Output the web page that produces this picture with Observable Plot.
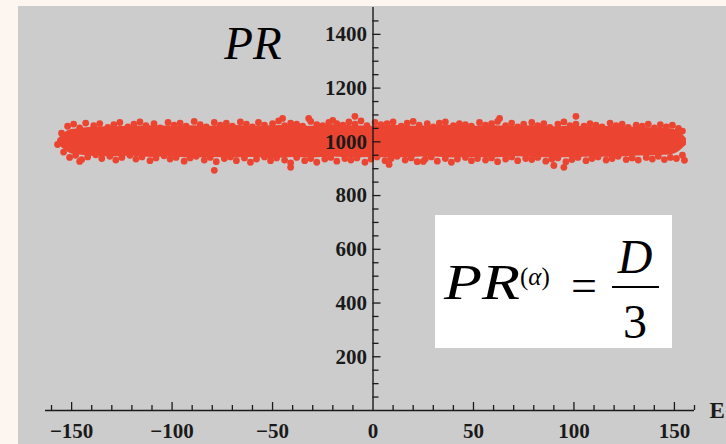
<!DOCTYPE html>
<html>
<head>
<meta charset="utf-8">
<script src="https://cdn.jsdelivr.net/npm/d3@7"></script>
<script src="https://cdn.jsdelivr.net/npm/@observablehq/plot@0.6"></script>
<style>
  body { margin: 0; background: #fdf6f0; }
  #wrap { position: relative; width: 726px; height: 444px; overflow: hidden; background: #fdf6f0; }
  #chart { position: absolute; left: 18px; top: 6px; }
  #formula { position: absolute; left: 435px; top: 215px; }
</style>
</head>
<body>
<div id="wrap">
  <div id="chart"></div>
  <svg id="formula" width="237" height="133" style="background:#ffffff" font-family="'Liberation Serif', 'Times New Roman', serif">
    <text transform="translate(9,84) scale(1.22,1)" font-size="51" font-style="italic">PR</text>
    <text x="85" y="70" font-size="25">(<tspan font-style="italic">α</tspan>)</text>
    <text x="136" y="86" font-size="46">=</text>
    <text x="200" y="58" font-size="48" font-style="italic" text-anchor="middle">D</text>
    <line x1="177" x2="224" y1="72" y2="72" stroke="#000" stroke-width="2"/>
    <text x="200" y="123" font-size="48" text-anchor="middle">3</text>
  </svg>
</div>
<script>
// ---- data ----
const xDomain = [-163, 160];
const yDomain = [0, 1500];
const xMinorTicks = [-160,-140,-130,-120,-110,-90,-80,-70,-60,-40,-30,-20,-10,10,20,30,40,60,70,80,90,110,120,130,140,160];
const xMajorTicks = [-150,-100,-50,0,50,100,150];
const yMinorTicks = [50,100,150,250,300,350,450,500,550,650,700,750,850,900,950,1050,1100,1150,1250,1300,1350,1450];
const yMajorTicks = [200,400,600,800,1000,1200,1400];

// dense core of the point cloud (lower / upper envelope)
const coreE    = [-157,-153,-150,-145,-140,-130,-120,-110,-100,-90,-80,-70,-60,-50,-40,-30,-20,-10,0,10,20,30,40,50,60,70,80,90,100,110,120,130,140,145,150,153,156];
const coreLow  = [992,968,955,950,946,944,946,942,944,940,942,940,942,938,942,940,944,940,942,940,942,944,940,942,940,944,942,940,942,944,942,946,948,950,955,968,988];
const coreHigh = [1008,1036,1046,1050,1054,1056,1058,1060,1058,1060,1058,1062,1058,1060,1062,1058,1064,1060,1058,1062,1058,1060,1062,1058,1060,1058,1060,1056,1058,1056,1058,1054,1052,1050,1046,1034,1012];

// points along the upper edge
const topE  = [-155,-152,-149,-146,-143,-139,-136,-132,-129,-126,-122,-119,-116,-113,-109,-106,-102,-99,-96,-93,-89,-86,-83,-79,-76,-73,-70,-66,-63,-60,-57,-54,-50,-47,-44,-41,-38,-35,-31,-28,-25,-22,-18,-15,-12,-9,-6,-3,1,4,7,10,14,17,20,23,27,30,33,36,40,43,46,49,53,56,59,62,66,69,72,75,79,82,85,88,92,95,98,101,105,108,111,114,118,121,124,127,131,134,137,140,143,146,149,152,154];
const topPR = [1032,1058,1066,1052,1070,1060,1068,1054,1064,1072,1056,1066,1074,1060,1068,1052,1072,1062,1070,1058,1076,1064,1056,1072,1062,1070,1058,1074,1066,1056,1072,1062,1068,1078,1060,1070,1066,1058,1076,1064,1060,1072,1068,1062,1074,1066,1078,1060,1072,1064,1068,1074,1058,1070,1076,1062,1068,1056,1070,1074,1060,1068,1064,1058,1072,1062,1068,1076,1060,1070,1056,1066,1072,1060,1068,1054,1066,1074,1060,1066,1058,1068,1062,1056,1070,1060,1066,1054,1062,1058,1066,1052,1064,1056,1062,1050,1040];

// points along the lower edge
const botE  = [-157,-154,-151,-148,-145,-142,-138,-135,-131,-128,-125,-121,-118,-115,-111,-108,-104,-101,-98,-94,-91,-88,-84,-81,-78,-74,-71,-68,-64,-61,-58,-54,-51,-48,-44,-41,-38,-34,-31,-28,-24,-21,-18,-14,-11,-8,-4,-1,2,6,9,12,16,19,22,26,29,32,36,39,42,46,49,52,56,59,62,66,69,72,76,79,82,86,89,92,96,99,102,106,109,112,116,119,122,126,129,132,136,139,142,145,148,151,154];
const botPR = [990,962,942,950,934,944,952,938,946,932,942,950,936,944,930,940,948,936,942,928,940,946,932,942,926,938,944,930,940,924,936,944,930,940,932,922,942,930,938,924,936,942,928,938,932,940,924,936,944,930,938,946,932,940,926,936,944,928,938,924,936,942,930,938,932,940,926,936,944,930,938,934,942,928,936,940,926,934,942,930,938,944,932,938,946,934,940,932,942,936,946,934,942,938,950];

// isolated outliers
const outE  = [-146,-79,-45,-41,-32,-20,-9,8,25,63,90,95,101,155];
const outPR = [927,894,1087,905,1087,1080,1095,916,927,1087,912,905,1095,931];

// ---- build tables ----
const red = "#eb4531";
const ink = "#1a1a1a";
const core = coreE.map((e, i) => ({E: e, low: coreLow[i], high: coreHigh[i]}));
const pts = [
  ...topE.map((e, i) => ({E: e, PR: topPR[i]})),
  ...botE.map((e, i) => ({E: e, PR: botPR[i]})),
  ...outE.map((e, i) => ({E: e, PR: outPR[i]}))
];
const fmt = (d) => d < 0 ? "\u2212" + (-d) : String(d);
const serif = "'Liberation Serif', 'Times New Roman', serif";
const zero = () => 0;

const chart = Plot.plot({
  width: 708,
  height: 438,
  marginLeft: 27,
  marginRight: 32,
  marginTop: 1,
  marginBottom: 34,
  style: {background: "#cccccc", fontFamily: serif, overflow: "visible"},
  x: {domain: xDomain, axis: null},
  y: {domain: yDomain, axis: null},
  marks: [
    Plot.areaY(core, {x: "E", y1: "low", y2: "high", fill: red, curve: "catmull-rom"}),
    Plot.dot(pts, {x: "E", y: "PR", r: 3.4, fill: red, stroke: "none"}),
    // axis lines
    Plot.ruleY([0], {stroke: ink, strokeWidth: 1.4}),
    Plot.ruleX([0], {stroke: ink, strokeWidth: 1.4}),
    // x ticks (pointing up)
    Plot.ruleX(xMinorTicks, {x: d => d, y1: zero, y2: zero, insetTop: -5, stroke: ink, strokeWidth: 1.3}),
    Plot.ruleX(xMajorTicks.filter(d => d !== 0), {x: d => d, y1: zero, y2: zero, insetTop: -8, stroke: ink, strokeWidth: 1.3}),
    // y ticks (pointing right)
    Plot.ruleY(yMinorTicks, {y: d => d, x1: zero, x2: zero, insetRight: -6, stroke: ink, strokeWidth: 1.3}),
    Plot.ruleY(yMajorTicks, {y: d => d, x1: zero, x2: zero, insetRight: -8, stroke: ink, strokeWidth: 1.3}),
    // tick labels
    Plot.text(xMajorTicks, {x: d => d, y: zero, text: fmt, dy: 21, fontSize: 21, fontWeight: "bold", fill: ink}),
    Plot.text(yMajorTicks, {x: zero, y: d => d, text: d => String(d), dx: -6, textAnchor: "end", fontSize: 21, fontWeight: "bold", fill: ink}),
    Plot.text(["E"], {x: () => xDomain[1], y: zero, text: d => d, dx: 15, textAnchor: "start", fontSize: 23, fontWeight: "bold", fill: ink}),
    Plot.text(["PR"], {x: zero, y: () => yDomain[1], text: d => d, dx: -120, dy: 36, fontSize: 47, fontStyle: "italic", fill: "#000"})
  ]
});
document.getElementById("chart").appendChild(chart);
</script>
</body>
</html>
